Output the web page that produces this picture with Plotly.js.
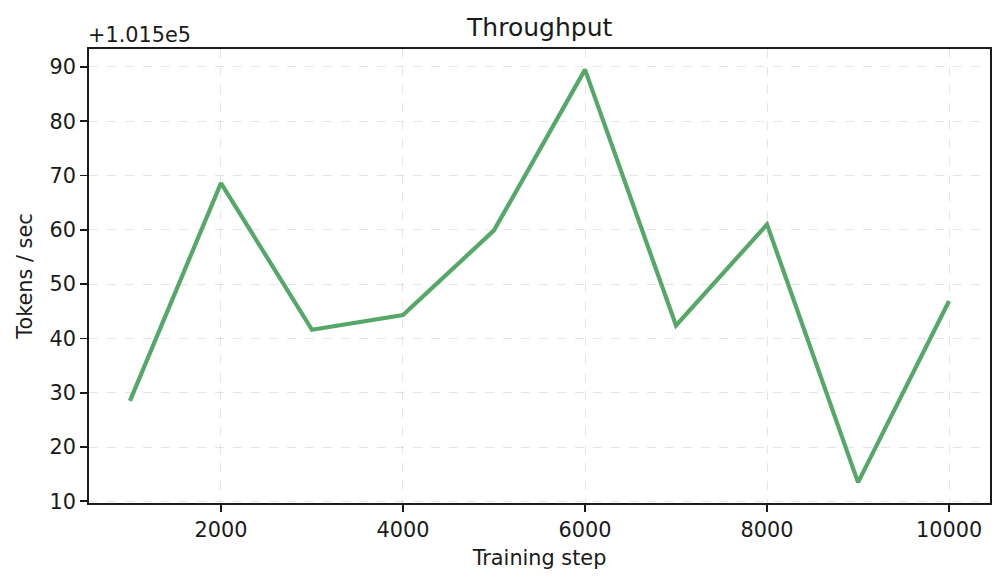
<!DOCTYPE html>
<html>
<head>
<meta charset="utf-8">
<script src="https://cdn.plot.ly/plotly-3.0.1.min.js"></script>
<style>
  html, body { margin: 0; padding: 0; background: #fff; }
  #chart { width: 1005px; height: 584px; }
</style>
</head>
<body>
<div id="chart"></div>
<script>
const steps = [1000, 2000, 3000, 4000, 5000, 6000, 7000, 8000, 9000, 10000]
const throughput = [101528.5, 101568.6, 101541.6, 101544.3, 101559.9, 101589.5, 101542.4, 101561.0, 101513.5, 101546.9]
const yOffset = 101500
const yTickVals = [101510, 101520, 101530, 101540, 101550, 101560, 101570, 101580, 101590]
const yTickText = ['10', '20', '30', '40', '50', '60', '70', '80', '90']
const xTickVals = [2000, 4000, 6000, 8000, 10000]

const font = 'DejaVu Sans, sans-serif'
const ink = '#1a1a1a'

const data = [{
  x: steps,
  y: throughput,
  type: 'scatter',
  mode: 'lines',
  line: { color: '#55a868', width: 4.2 },
  showlegend: false
}]

const axisBase = {
  showline: true,
  linecolor: ink,
  linewidth: 1.8,
  mirror: true,
  ticks: 'outside',
  ticklen: 7,
  tickwidth: 1.8,
  tickcolor: ink,
  showgrid: true,
  gridcolor: 'rgba(0,0,0,0.1)',
  griddash: 'dash',
  gridwidth: 1,
  zeroline: false,
  tickfont: { family: font, size: 20.8, color: ink }
}

const layout = {
  width: 1005,
  height: 584,
  margin: { l: 89, r: 15, t: 49, b: 81 },
  paper_bgcolor: '#fff',
  plot_bgcolor: '#fff',
  title: {
    text: 'Throughput',
    font: { family: font, size: 25, color: ink },
    x: 0.537,
    xanchor: 'center',
    y: 0.953,
    yanchor: 'middle'
  },
  xaxis: Object.assign({}, axisBase, {
    range: [550, 10450],
    tickmode: 'array',
    tickvals: xTickVals,
    ticktext: xTickVals.map(String),
    title: { text: 'Training step', font: { family: font, size: 20.8, color: ink }, standoff: 10 }
  }),
  yaxis: Object.assign({}, axisBase, {
    range: [yOffset + 9.7, yOffset + 93.3],
    tickmode: 'array',
    tickvals: yTickVals,
    ticktext: yTickText,
    title: { text: 'Tokens / sec', font: { family: font, size: 20.8, color: ink }, standoff: 11 }
  }),
  annotations: [{
    text: '+1.015e5',
    xref: 'paper',
    yref: 'paper',
    x: 0,
    y: 1,
    xanchor: 'left',
    yanchor: 'bottom',
    xshift: -3,
    yshift: 0,
    showarrow: false,
    font: { family: font, size: 20.8, color: ink }
  }]
}

Plotly.newPlot('chart', data, layout, { displayModeBar: false, staticPlot: true })
</script>
</body>
</html>
